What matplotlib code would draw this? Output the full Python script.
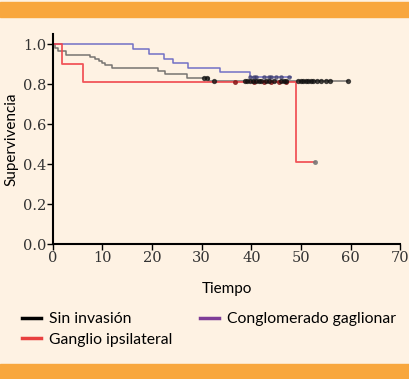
import matplotlib.pyplot as plt
from matplotlib.lines import Line2D
from matplotlib.patches import Rectangle

# Kaplan-Meier steps
sin_t = [0, 0.4, 1.0, 2.6, 7.5, 8.5, 9.2, 9.9, 10.5, 11.9, 21.2, 22.6, 27.0, 31.5, 59.5]
sin_s = [1.0, 0.98, 0.965, 0.945, 0.935, 0.925, 0.915, 0.905, 0.895, 0.88, 0.865, 0.85, 0.83, 0.815, 0.815]
sin_cens = [30.5, 31.0, 32.5, 38.7, 39.2, 39.7, 40.3, 41.0, 41.5, 42.0, 43.0, 43.5, 44.5, 46.0, 46.5, 47.0,
            49.5, 50.0, 50.5, 51.0, 51.5, 52.0, 52.5, 53.3, 54.0, 55.0, 55.8, 59.5]

cong_t = [0, 16.1, 19.4, 22.4, 24.2, 27.2, 33.7, 39.7, 48.0]
cong_s = [1.0, 0.975, 0.95, 0.925, 0.905, 0.88, 0.86, 0.836, 0.836]
cong_cens = [39.8, 40.5, 41.0, 42.5, 43.5, 44.0, 45.0, 46.0, 47.5]

gang_t = [0, 1.75, 6.0, 49.0, 52.8]
gang_s = [1.0, 0.90, 0.81, 0.41, 0.41]
gang_cens = [36.7, 40.5, 42.5, 44.0, 45.5, 47.0]

labels = ['Sin invasión', 'Conglomerado gaglionar', 'Ganglio ipsilateral']
xticks = [0, 10, 20, 30, 40, 50, 60, 70]
yticks = [0.0, 0.2, 0.4, 0.6, 0.8, 1.0]

bg = '#FEF2E3'
orange = '#F8A73E'

fig = plt.figure(figsize=(4.1, 3.79), dpi=100, facecolor=bg)
ax = fig.add_axes([0.129, 0.356, 0.847, 0.554])
ax.set_facecolor(bg)

def lookup(ts, ss, t):
	val = ss[0]
	for a, b in zip(ts, ss):
		if a <= t:
			val = b
	return val

ax.step(sin_t, sin_s, where='post', color='#555555', lw=1.1, alpha=0.8)
ax.step(cong_t, cong_s, where='post', color='#5A5AC0', lw=1.1, alpha=0.85)
ax.step(gang_t, gang_s, where='post', color='#F0444A', lw=1.3, alpha=0.9)

ax.plot(gang_cens, [lookup(gang_t, gang_s, t) for t in gang_cens], 'o', color='#8B1A1A', ms=2.6, alpha=0.8)
ax.plot([gang_t[-1]], [gang_s[-1]], 'o', color='#777777', ms=2.6, alpha=0.8)
ax.plot(cong_cens, [lookup(cong_t, cong_s, t) for t in cong_cens], 'o', color='#3A3A6A', ms=2.4, alpha=0.6)
ax.plot(sin_cens, [lookup(sin_t, sin_s, t) for t in sin_cens], 'o', color='#111111', ms=2.8, alpha=0.7)

ax.set_xlim(0, 70)
ax.set_ylim(0, 1.05)
ax.set_xticks(xticks)
ax.set_yticks(yticks)
ax.set_xticklabels([str(x) for x in xticks], family='DejaVu Serif', fontsize=10.5, color='#333333')
ax.set_yticklabels([f'{y:.1f}' for y in yticks], family='DejaVu Serif', fontsize=10.5, color='#333333')
ax.tick_params(direction='out', length=4, width=1, pad=1)
for side in ['top', 'right']:
	ax.spines[side].set_visible(False)
for side in ['left', 'bottom']:
	ax.spines[side].set_linewidth(1.5)
ax.spines['left'].set_bounds(0, 1.05)

ax.set_xlabel('Tiempo', family='Lato', fontsize=11, labelpad=12)
ax.set_ylabel('Supervivencia', family='Lato', fontsize=11, labelpad=3)

handles = [Line2D([], [], color='black', lw=2.5),
           Line2D([], [], color='#E8403F', lw=2.5),
           Line2D([], [], color='#7E3D97', lw=2.5)]
fig.legend(handles, [labels[0], labels[2], labels[1]], ncol=2, loc='upper left',
           bbox_to_anchor=(0.02, 0.213), frameon=False, handlelength=1.2,
           handletextpad=0.5, columnspacing=1.75, labelspacing=0.4,
           prop={'family': 'Lato', 'size': 11.3})

# orange bands top and bottom
fig.patches.append(Rectangle((0, 1 - 17 / 379), 1, 15 / 379, transform=fig.transFigure,
                             color=orange, zorder=0))
fig.patches.append(Rectangle((0, 0), 1, 15 / 379, transform=fig.transFigure,
                             color=orange, zorder=0))

plt.savefig('out.png', dpi=100, facecolor=bg)
